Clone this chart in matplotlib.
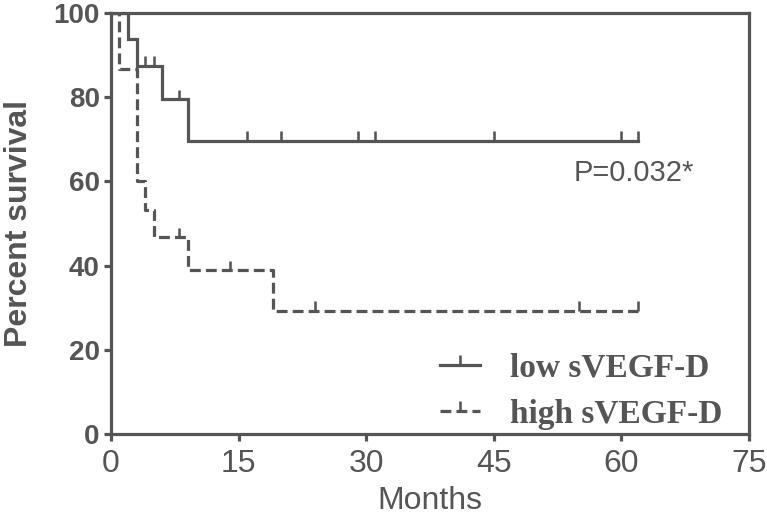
import numpy as np
import matplotlib
matplotlib.use('Agg')
import matplotlib.pyplot as plt
from matplotlib.lines import Line2D
from matplotlib.path import Path

# Kaplan-Meier steps
low_times = [0, 2, 3, 6, 9]
low_surv = [100, 93.8, 87.5, 79.5, 69.6]
low_censor = [4, 5, 8, 16, 20, 29, 31, 45, 60, 62]

high_times = [0, 1, 3, 4, 5, 9, 19]
high_surv = [100, 86.7, 60.0, 53.3, 46.7, 38.9, 29.2]
high_censor = [8, 14, 24, 55, 62]

end_time = 62
x_ticks = [0, 15, 30, 45, 60, 75]
y_ticks = [0, 20, 40, 60, 80, 100]

col = '#555555'
lw = 2.3
sans = ['Liberation Sans', 'DejaVu Sans']


def surv_at(times, surv, t):
    i = np.searchsorted(times, t, side='right') - 1
    return surv[i]


fig = plt.figure(figsize=(7.67, 5.2), dpi=100)
ax = fig.add_axes([0.1447, 0.1654, 0.8318, 0.8096])

# low sVEGF-D (solid)
ax.step(low_times + [end_time], low_surv + [low_surv[-1]], where='post',
        color=col, lw=lw, solid_joinstyle='miter')
ys = [surv_at(low_times, low_surv, t) for t in low_censor]
ax.vlines(low_censor, ys, np.array(ys) + 2.3, color=col, lw=lw * 0.8)

# high sVEGF-D (dashed)
ax.step(high_times + [end_time], high_surv + [high_surv[-1]], where='post',
        color=col, lw=lw, ls=(0, (3.4, 1.6)))
ys = [surv_at(high_times, high_surv, t) for t in high_censor]
ax.vlines(high_censor, ys, np.array(ys) + 2.3, color=col, lw=lw * 0.8)

ax.set_xlim(0, 75)
ax.set_ylim(0, 100)
ax.set_xticks(x_ticks)
ax.set_yticks(y_ticks)
for s in ax.spines.values():
    s.set_color(col)
    s.set_linewidth(lw)
ax.tick_params(colors=col, width=lw, length=5, pad=3)
ax.tick_params(axis='x', pad=6)

for lab in ax.get_yticklabels():
    lab.set_fontsize(20)
    lab.set_fontweight('bold')
    lab.set_family(sans)
for lab in ax.get_xticklabels():
    lab.set_fontsize(23)
    lab.set_family(sans)

ax.set_xlabel('Months', fontsize=23, color=col, labelpad=5, family=sans)
ax.set_ylabel('Percent survival', fontsize=23, color=col, fontweight='bold',
              labelpad=14, family=sans)

ax.text(0.914, 0.62, 'P=0.032*', transform=ax.transAxes, fontsize=21,
        color=col, ha='right', va='center', family=sans)

tick_marker = Path([(0, 0), (0, 1)])
handles = [
    Line2D([], [], color=col, lw=lw, marker=tick_marker, markersize=14,
           markeredgewidth=lw * 0.8),
    Line2D([], [], color=col, lw=lw, ls=(0, (3.4, 1.6)), marker=tick_marker,
           markersize=14, markeredgewidth=lw * 0.8),
]
ax.legend(handles, ['low sVEGF-D', 'high sVEGF-D'], loc='lower left',
          bbox_to_anchor=(0.49, -0.03), frameon=False, numpoints=1,
          handlelength=1.2, handletextpad=0.9, labelspacing=0.45,
          borderpad=0.3, borderaxespad=0.2,
          prop={'family': 'Liberation Serif', 'weight': 'bold', 'size': 24},
          labelcolor=col)

fig.savefig('out.png', dpi=100)
